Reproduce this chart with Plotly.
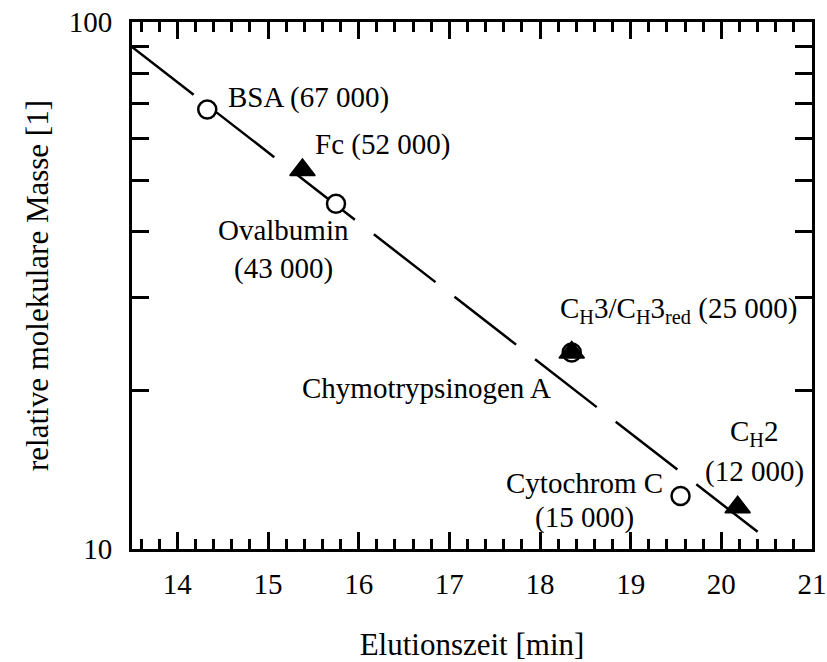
import plotly.graph_objects as go

# Calibration standards and samples: elution time [min] vs. relative molecular mass [kDa]
circle_names = ["BSA", "Ovalbumin", "Chymotrypsinogen A", "Cytochrom C"]
circle_time = [14.33, 15.75, 18.35, 19.55]
circle_mass = [68.2, 45.2, 23.6, 12.6]

triangle_names = ["Fc", "CH3/CH3red", "CH2"]
triangle_time = [15.38, 18.35, 20.18]
triangle_mass = [52.4, 23.6, 12.0]

# Calibration line end points
fit_time = [13.5, 20.40]
fit_mass = [89.7, 10.78]

x_ticks = [14, 15, 16, 17, 18, 19, 20, 21]
y_ticks = [10, 100]
y_minor_ticks = [20, 30, 40, 50, 60, 70, 80, 90]

FONT = "Liberation Serif"
FS = 29
FS_TITLE = 31

fig = go.Figure()

fig.add_trace(go.Scatter(
    x=fit_time, y=fit_mass, mode="lines",
    line=dict(color="black", width=2.5, dash="78px,24px"),
    hoverinfo="skip", showlegend=False,
))

fig.add_trace(go.Scatter(
    x=circle_time, y=circle_mass, mode="markers", text=circle_names,
    marker=dict(symbol="circle", size=18, color="white",
                line=dict(color="black", width=2.5)),
    showlegend=False,
))

fig.add_trace(go.Scatter(
    x=triangle_time, y=triangle_mass, mode="markers", text=triangle_names,
    marker=dict(symbol="triangle-up", size=22, color="black",
                line=dict(color="black", width=1.5)),
    showlegend=False,
))

# Text labels: (text, x, log10(y), xanchor)
labels = [
    ("BSA (67 000)", 14.537, 1.8567, "left"),
    ("Fc (52 000)", 15.496, 1.7676, "left"),
    ("Ovalbumin", 15.176, 1.6053, "center"),
    ("(43 000)", 15.176, 1.5332, "center"),
    ("C<sub>H</sub>3/C<sub>H</sub>3<sub>red</sub> (25 000)", 18.198, 1.4540, "left"),
    ("Chymotrypsinogen A", 18.143, 1.3055, "right"),
    ("C<sub>H</sub>2", 20.369, 1.2200, "center"),
    ("(12 000)", 20.369, 1.1480, "center"),
    ("Cytochrom C", 18.496, 1.1252, "center"),
    ("(15 000)", 18.496, 1.0598, "center"),
]
for text, x, ly, xa in labels:
    fig.add_annotation(
        x=x, y=ly, xref="x", yref="y", text=text, showarrow=False,
        xanchor=xa, yanchor="middle",
        font=dict(family=FONT, size=FS, color="black"),
    )

fig.update_xaxes(
    range=[13.5, 21], tickvals=x_ticks, automargin=False,
    ticks="inside", ticklen=17, tickwidth=3, tickcolor="black",
    minor=dict(dtick=0.2, tick0=0, ticks="inside", ticklen=10,
               tickwidth=3, tickcolor="black"),
    showline=True, linewidth=3, linecolor="black", mirror="ticks",
    showgrid=False, zeroline=False,
    ticklabelstandoff=7,
    tickfont=dict(family=FONT, size=FS, color="black"),
    title=dict(text="Elutionszeit [min]", standoff=38,
               font=dict(family=FONT, size=FS_TITLE, color="black")),
)
fig.update_yaxes(
    type="log", range=[1, 2], tickvals=y_ticks, ticktext=["10", "100"],
    automargin=False,
    ticks="inside", ticklen=17, tickwidth=3, tickcolor="black",
    minor=dict(tickvals=y_minor_ticks, ticks="inside", ticklen=17,
               tickwidth=3, tickcolor="black", showgrid=False),
    showline=True, linewidth=3, linecolor="black", mirror="ticks",
    showgrid=False, zeroline=False,
    ticklabelstandoff=11,
    tickfont=dict(family=FONT, size=FS, color="black"),
    title=dict(text="relative molekulare Masse [1]", standoff=11,
               font=dict(family=FONT, size=FS_TITLE, color="black")),
)

fig.update_layout(
    width=827, height=662,
    margin=dict(l=132, r=15, t=22, b=113),
    plot_bgcolor="white", paper_bgcolor="white",
    font=dict(family=FONT, size=FS, color="black"),
)

fig.write_html("out.html")
